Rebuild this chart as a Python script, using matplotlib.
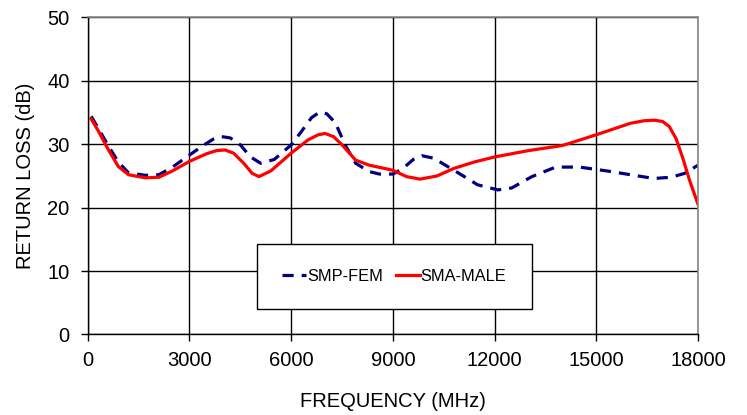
import matplotlib
matplotlib.use("Agg")
import matplotlib.pyplot as plt

# values
freq_fem = [100, 300, 600, 900, 1200, 1700, 2100, 2500, 3000, 3400, 3700, 3950, 4200,
            4500, 4800, 5100, 5500, 6000, 6300, 6600, 6850, 7050, 7300, 7600, 7900,
            8300, 8600, 9000, 9300, 9600, 9850, 10200, 10800, 11500, 12100, 12500,
            13100, 13800, 14500, 15300, 16000, 16700, 17200, 17600, 18000]
loss_fem = [34.4, 32.6, 29.8, 27.2, 25.5, 25.1, 25.2, 26.4, 28.3, 29.8, 30.8, 31.2,
            31.0, 29.9, 28.0, 27.0, 27.6, 29.9, 32.0, 34.2, 35.1, 34.8, 33.4, 29.8,
            27.0, 25.7, 25.3, 25.3, 26.2, 27.6, 28.2, 27.8, 25.9, 23.6, 22.8, 23.1,
            24.9, 26.4, 26.4, 25.8, 25.2, 24.6, 24.8, 25.4, 26.7]

freq_male = [100, 300, 600, 900, 1200, 1700, 2100, 2500, 3000, 3500, 3800, 4050, 4300,
             4600, 4850, 5050, 5400, 6000, 6500, 6800, 7000, 7250, 7500, 7900, 8300,
             9000, 9400, 9800, 10300, 10800, 11400, 12000, 13000, 14000, 15000, 16000,
             16400, 16700, 16950, 17150, 17350, 17550, 17750, 18000]
loss_male = [34.0, 32.2, 29.2, 26.5, 25.2, 24.7, 24.8, 25.8, 27.3, 28.5, 29.0, 29.1,
             28.6, 27.0, 25.4, 24.9, 25.8, 28.6, 30.7, 31.5, 31.7, 31.2, 29.9, 27.5,
             26.7, 25.9, 24.9, 24.5, 25.0, 26.2, 27.2, 28.0, 29.0, 29.8, 31.5, 33.3,
             33.7, 33.8, 33.6, 32.8, 30.9, 27.8, 24.3, 20.5]

x_ticks = [0, 3000, 6000, 9000, 12000, 15000, 18000]
y_ticks = [0, 10, 20, 30, 40, 50]

plt.rcParams['font.family'] = ['Liberation Sans', 'DejaVu Sans']

fig = plt.figure(figsize=(7.47, 4.15), dpi=100)
ax = fig.add_axes([0.1175, 0.194, 0.817, 0.764])

ax.plot(freq_fem, loss_fem, color='#000080', linewidth=2.3, linestyle=(0, (3.5, 2.5)),
        label='SMP-FEM', dash_capstyle='butt', dash_joinstyle='round')
ax.plot(freq_male, loss_male, color='#ff0000', linewidth=2.3, label='SMA-MALE',
        solid_joinstyle='round')

ax.set_xlim(0, 18000)
ax.set_ylim(0, 50)
ax.set_xticks(x_ticks)
ax.set_yticks(y_ticks)
ax.tick_params(direction='out', length=5, width=1, color='black', labelsize=14.5)
ax.tick_params(axis='y', pad=8)
ax.tick_params(axis='x', pad=7)
ax.grid(True, color='black', linewidth=1)
ax.set_axisbelow(True)

for side in ['top', 'right']:
    ax.spines[side].set_color('#888888')
    ax.spines[side].set_linewidth(1.2)
for side in ['left', 'bottom']:
    ax.spines[side].set_color('black')
    ax.spines[side].set_linewidth(1)

ax.set_xlabel('FREQUENCY (MHz)', fontsize=14.5, labelpad=16)
ax.set_ylabel('RETURN LOSS (dB)', fontsize=14.5, labelpad=9)

leg = ax.legend(loc='center', bbox_to_anchor=(0.5025, 0.183), ncol=2, fontsize=11.8,
                frameon=True, fancybox=False, edgecolor='black', framealpha=1,
                borderpad=1.55, handlelength=1.45, columnspacing=0.8, handletextpad=0.05,
                borderaxespad=0)
leg.get_frame().set_linewidth(1)

fig.savefig('out.png', dpi=100)
